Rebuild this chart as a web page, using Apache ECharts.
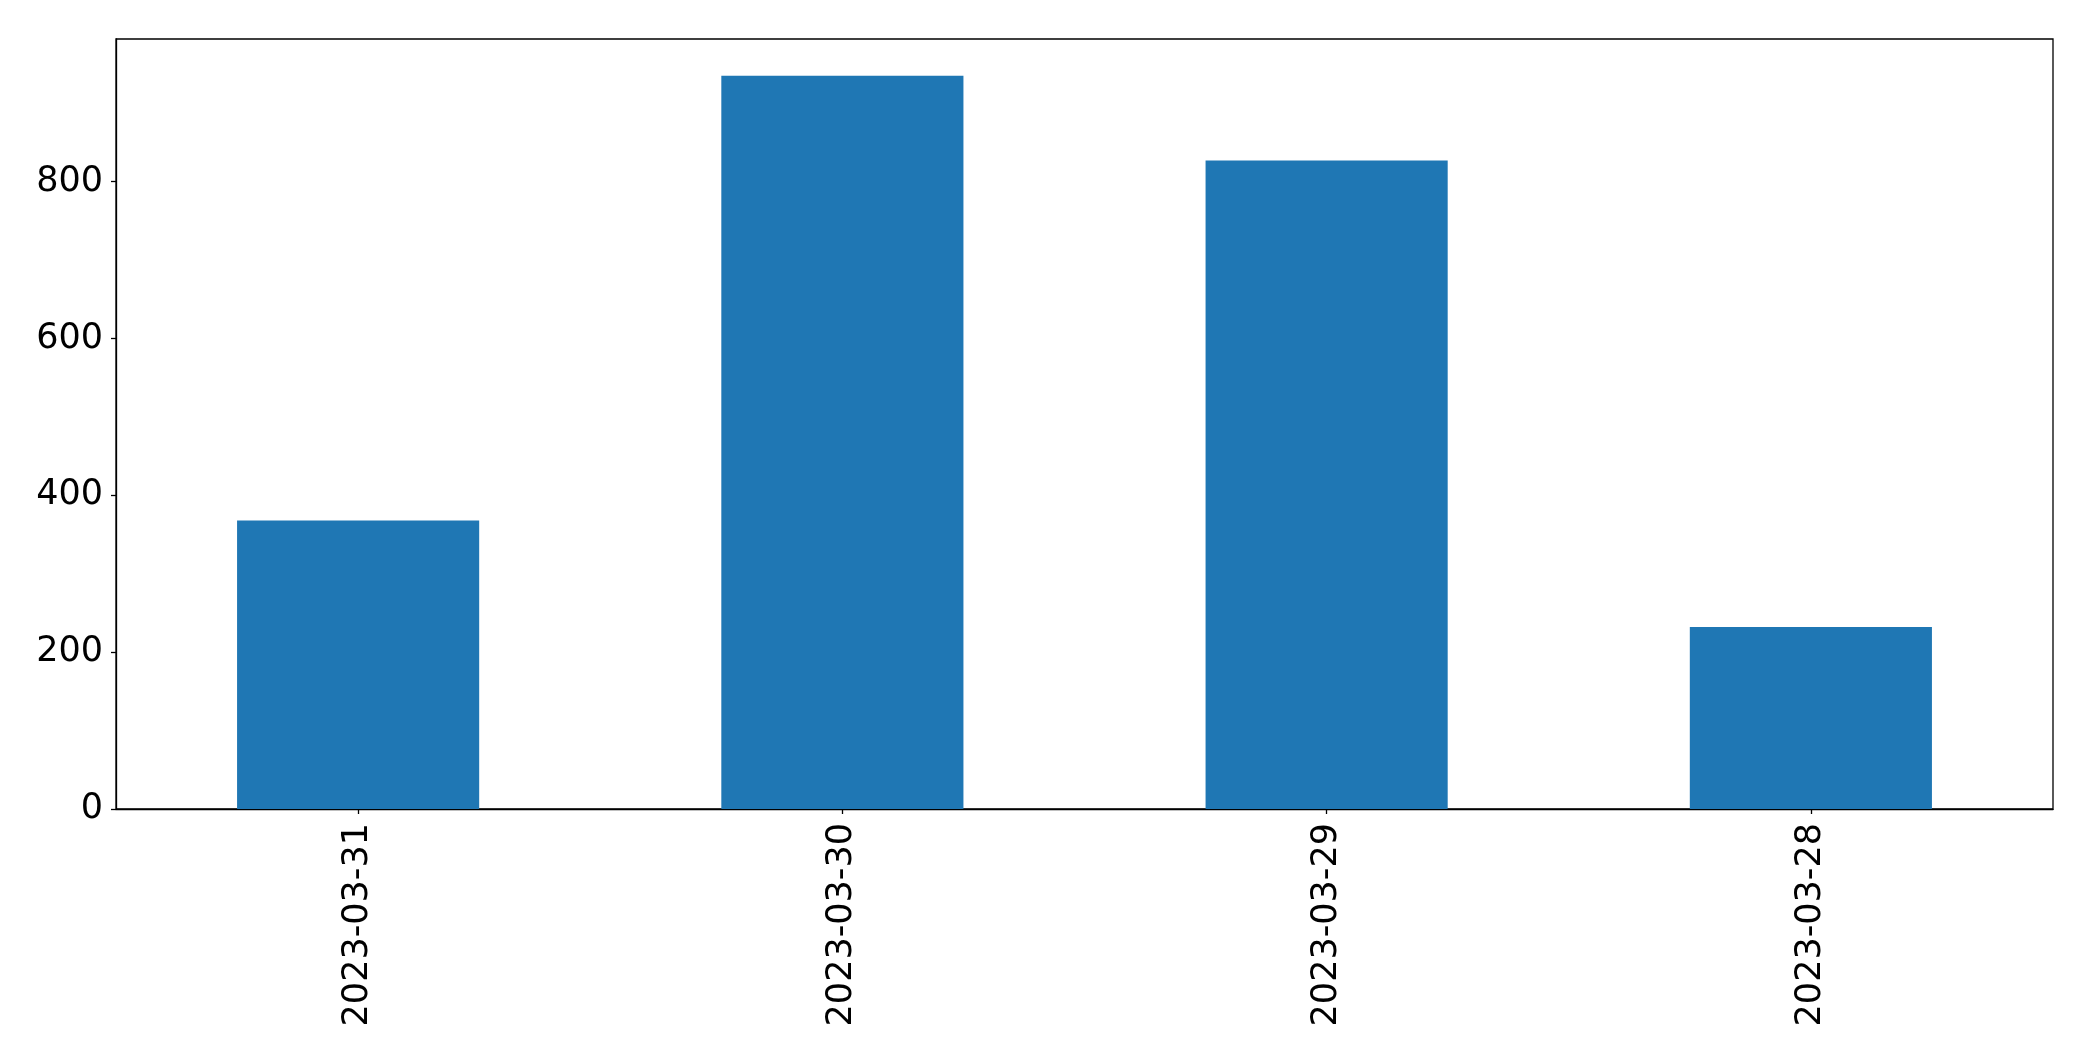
<!DOCTYPE html>
<html>
<head>
<meta charset="utf-8">
<script src="https://cdn.jsdelivr.net/npm/echarts@6/dist/echarts.min.js"></script>
<style>html,body{margin:0;padding:0;background:#fff;}#c{width:2093px;height:1061px;}</style>
</head>
<body>
<div id="c"></div>
<script>
const categories = ["2023-03-31", "2023-03-30", "2023-03-29", "2023-03-28"];
const values = [368, 935, 827, 232];
const yTicks = [0, 200, 400, 600, 800];

const chart = echarts.init(document.getElementById('c'), null, {renderer: 'canvas'});
chart.setOption({
  animation: false,
  backgroundColor: '#ffffff',
  grid: {left: 116, right: 40, top: 39, bottom: 252, show: true, borderColor: '#000', borderWidth: 1.3, backgroundColor: 'transparent'},
  xAxis: {
    type: 'category',
    data: categories,
    axisLine: {show: true, lineStyle: {color: '#000', width: 1.3}},
    axisTick: {show: true, alignWithLabel: true, length: 5, lineStyle: {color: '#000', width: 1.3}},
    axisLabel: {rotate: 90, fontFamily: 'DejaVu Sans', fontSize: 35, color: '#000', margin: 14, interval: 0},
    splitLine: {show: false}
  },
  yAxis: {
    type: 'value',
    min: 0, max: 982, interval: 200,
    axisLine: {show: true, lineStyle: {color: '#000', width: 1.3}},
    axisTick: {show: true, length: 5, customValues: yTicks, lineStyle: {color: '#000', width: 1.3}},
    axisLabel: {fontFamily: 'DejaVu Sans', fontSize: 35, color: '#000', margin: 13, customValues: yTicks},
    splitLine: {show: false}
  },
  series: [{
    type: 'bar',
    data: values,
    barWidth: '50%',
    itemStyle: {color: '#1f77b4'}
  }]
});
</script>
</body>
</html>
